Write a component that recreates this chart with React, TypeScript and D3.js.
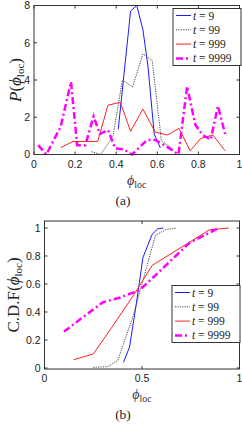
import React from "react";
import * as d3 from "d3";

type Pt = [number, number];

// (a) probability density of phi_loc
const pdfT9: Pt[] = [[0.41, 1.35], [0.47, 7.7], [0.5, 8.0], [0.53, 6.7], [0.555, 4.7], [0.585, 1.1], [0.615, 0.35]];
const pdfT99: Pt[] = [[0.28, 0.15], [0.325, 0.0], [0.385, 1.0], [0.43, 4.0], [0.48, 3.63], [0.53, 5.4], [0.575, 5.05], [0.62, 0.75], [0.68, 0.25]];
const pdfT999: Pt[] = [[0.13, 0.37], [0.19, 0.7], [0.31, 0.7], [0.36, 2.65], [0.42, 2.8], [0.47, 1.25], [0.53, 2.44], [0.59, 1.2], [0.65, 1.05], [0.705, 1.4], [0.76, 0.2], [0.81, 0.85], [0.87, 1.05], [0.93, 0.2]];
const pdfT9999: Pt[] = [[0.02, 0.5], [0.06, 0.0], [0.13, 1.5], [0.18, 3.9], [0.21, 0.5], [0.25, 0.5], [0.29, 2.05], [0.32, 1.1], [0.36, 1.32], [0.395, 0.33], [0.435, 0.28], [0.478, 0.0], [0.55, 0.78], [0.59, 0.78], [0.647, 0.42], [0.703, 0.0], [0.745, 3.65], [0.785, 1.6], [0.82, 1.05], [0.86, 0.8], [0.895, 2.6], [0.93, 1.1]];

// (b) cumulative distribution
const cdfT9: Pt[] = [[0.405, 0.04], [0.436, 0.15], [0.47, 0.45], [0.505, 0.79], [0.552, 0.955], [0.581, 0.994], [0.61, 1.0]];
const cdfT99: Pt[] = [[0.25, 0.005], [0.325, 0.01], [0.376, 0.055], [0.453, 0.365], [0.569, 0.947], [0.62, 0.987], [0.675, 1.0]];
const cdfT999: Pt[] = [[0.15, 0.06], [0.25, 0.1], [0.34, 0.28], [0.46, 0.527], [0.552, 0.733], [0.846, 0.987], [0.945, 1.0]];
const cdfT9999: Pt[] = [[0.1, 0.26], [0.3, 0.47], [0.38, 0.5], [0.487, 0.555], [0.745, 0.895], [0.894, 1.0]];

const legendLabels = ["9", "99", "999", "9999"];
const pdfXTicks = [0, 0.2, 0.4, 0.6, 0.8, 1];
const pdfYTicks = [0, 2, 4, 6, 8];
const cdfXTicks = [0, 0.5, 1];
const cdfYTicks = [0, 0.2, 0.4, 0.6, 0.8, 1];

const seriesStyle = [
  { color: "#1a1aff", width: 1, dash: "" },
  { color: "#444", width: 1, dash: "1.2,1.2" },
  { color: "#ff2020", width: 1, dash: "" },
  { color: "#ff00ff", width: 2.5, dash: "7,3,2,3" },
];

const AXIS = "#333";
const SERIF = "'Liberation Serif', 'DejaVu Serif', serif";
const SANS = "'Liberation Sans', Arial, sans-serif";
const PHI = "\u03D5";

interface PanelProps {
  series: Pt[][];
  xTicks: number[];
  yTicks: number[];
  yDomain: [number, number];
  box: { left: number; right: number; top: number; bottom: number };
  legend: { x: number; y: number };
  yLabel: "P" | "CDF";
  yLabelX: number;
  tag: string;
}

function Panel({ series, xTicks, yTicks, yDomain, box, legend, yLabel, yLabelX, tag }: PanelProps) {
  const x = d3.scaleLinear().domain([0, 1]).range([box.left, box.right]);
  const y = d3.scaleLinear().domain(yDomain).range([box.bottom, box.top]);
  const line = d3.line<Pt>().x((d) => x(d[0])).y((d) => y(d[1]));
  const tl = 3;
  const lw = 68, lh = 57;
  const midY = (box.top + box.bottom) / 2;

  return (
    <g>
      {series.map((s, i) => (
        <path key={i} d={line(s) ?? ""} fill="none" stroke={seriesStyle[i].color}
          strokeWidth={seriesStyle[i].width} strokeDasharray={seriesStyle[i].dash} />
      ))}
      <rect x={box.left} y={box.top} width={box.right - box.left} height={box.bottom - box.top}
        fill="none" stroke={AXIS} strokeWidth={1} />
      {xTicks.map((t) => (
        <g key={"x" + t}>
          <line x1={x(t)} x2={x(t)} y1={box.bottom} y2={box.bottom - tl} stroke={AXIS} />
          <line x1={x(t)} x2={x(t)} y1={box.top} y2={box.top + tl} stroke={AXIS} />
          <text x={x(t)} y={box.bottom + 13} textAnchor="middle" fontSize={10.5} fontFamily={SANS} fill="#222">{String(t)}</text>
        </g>
      ))}
      {yTicks.map((t) => (
        <g key={"y" + t}>
          <line x1={box.left} x2={box.left + tl} y1={y(t)} y2={y(t)} stroke={AXIS} />
          <line x1={box.right} x2={box.right - tl} y1={y(t)} y2={y(t)} stroke={AXIS} />
          <text x={box.left - 4} y={y(t) + 3.8} textAnchor="end" fontSize={10.5} fontFamily={SANS} fill="#222">{String(t)}</text>
        </g>
      ))}
      <text transform={`translate(${yLabelX},${midY}) rotate(-90)`} textAnchor="middle"
        fontSize={17} fontFamily={SERIF} fill="#222">
        {yLabel === "P" ? <tspan fontStyle="italic">P</tspan> : <tspan>C.D.F</tspan>}
        <tspan>(</tspan><tspan fontStyle="italic">{PHI}</tspan>
        <tspan fontSize={11} dy={3}>loc</tspan><tspan dy={-3}>)</tspan>
      </text>
      <text x={(box.left + box.right) / 2} y={box.bottom + 30} textAnchor="middle" fontSize={14} fontFamily={SERIF} fill="#333">
        <tspan fontStyle="italic">{PHI}</tspan><tspan fontSize={10} dy={3}>loc</tspan>
      </text>
      <text x={123} y={box.bottom + 50} textAnchor="middle" fontSize={13.5} fontFamily={SERIF} fill="#222">{tag}</text>
      <rect x={legend.x} y={legend.y} width={lw} height={lh} fill="#fff" stroke={AXIS} strokeWidth={1} />
      {legendLabels.map((lab, i) => {
        const ly = legend.y + 7 + i * 14.3;
        return (
          <g key={lab}>
            <line x1={legend.x + 3} x2={legend.x + 18} y1={ly} y2={ly} stroke={seriesStyle[i].color}
              strokeWidth={seriesStyle[i].width} strokeDasharray={seriesStyle[i].dash} />
            <text x={legend.x + 20} y={ly + 4} fontSize={11.5} fontFamily={SERIF} fill="#222">
              <tspan fontStyle="italic">t</tspan> = {lab}
            </text>
          </g>
        );
      })}
    </g>
  );
}

export default function App() {
  return (
    <div style={{ position: "absolute", left: 0, top: 0 }}>
      <svg width={242} height={425} style={{ display: "block", background: "#fff" }}>
        <Panel
          series={[pdfT9, pdfT99, pdfT999, pdfT9999]}
          xTicks={pdfXTicks} yTicks={pdfYTicks} yDomain={[0, 8]}
          box={{ left: 34, right: 239.5, top: 5.5, bottom: 154.5 }}
          legend={{ x: 173, y: 8.5 }}
          yLabel="P" yLabelX={21} tag="(a)"
        />
        <Panel
          series={[cdfT9, cdfT99, cdfT999, cdfT9999]}
          xTicks={cdfXTicks} yTicks={cdfYTicks} yDomain={[-0.007, 1.05]}
          box={{ left: 44.5, right: 239.5, top: 221, bottom: 369 }}
          legend={{ x: 172, y: 285.5 }}
          yLabel="CDF" yLabelX={19} tag="(b)"
        />
      </svg>
    </div>
  );
}
